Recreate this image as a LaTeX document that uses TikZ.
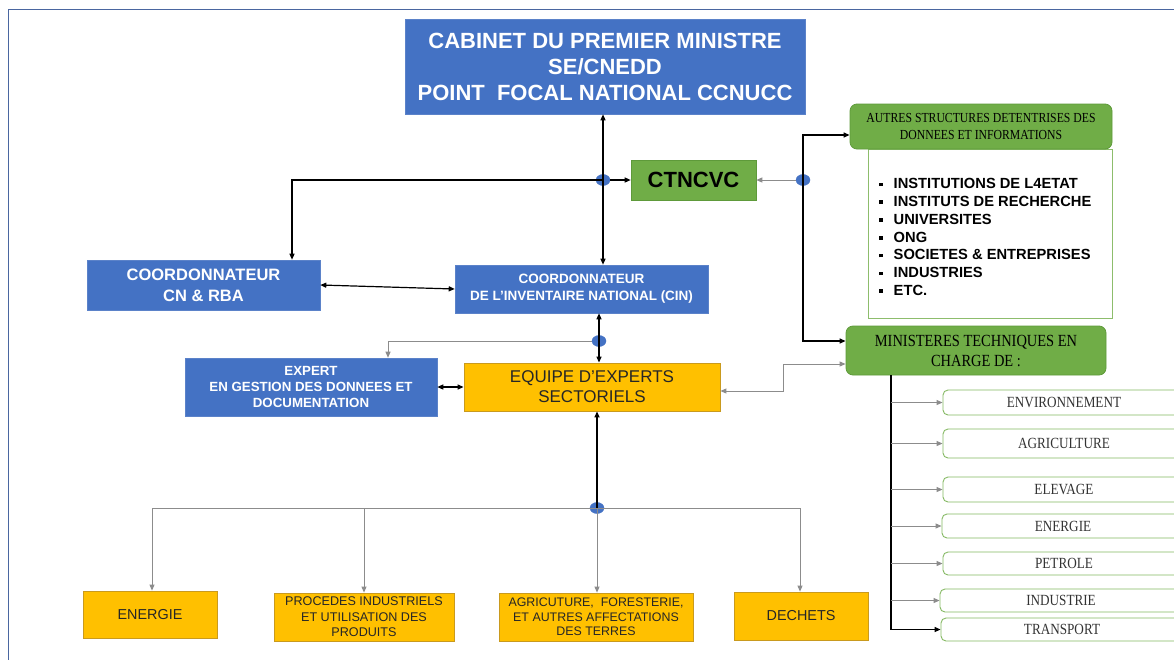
\documentclass[tikz,border=0pt]{standalone}
\usepackage{fontspec}
\setmainfont{Liberation Sans}
\newfontfamily\cserif[FakeStretch=0.85]{Liberation Serif}
\usetikzlibrary{arrows.meta,shapes.geometric}
\definecolor{cblue}{HTML}{4472C4}
\definecolor{cblueb}{HTML}{5B82C9}
\definecolor{cgreen}{HTML}{70AD47}
\definecolor{cgreenb}{HTML}{5E9A3A}
\definecolor{cyellow}{HTML}{FFC000}
\definecolor{cyellowb}{HTML}{C99A1E}
\definecolor{cframe}{HTML}{4A66A0}
\definecolor{cgray}{HTML}{8C8C8C}
\definecolor{ctext}{HTML}{333333}
\tikzset{
  tip/.tip={Triangle[length=6pt,width=5pt]},
  bluebox/.style={draw=cblueb, fill=cblue, text=white, inner sep=0, align=center, line width=0.6pt},
  greenbox/.style={draw=cgreenb, fill=cgreen, inner sep=0, align=center, line width=0.6pt},
  greenround/.style={draw=cgreenb, fill=cgreen, inner sep=0, align=center, rounded corners=7pt, line width=0.8pt, text=black},
  yellowbox/.style={draw=cyellowb, fill=cyellow, text=black!85, inner sep=0, align=center, line width=0.8pt},
  listbox/.style={draw=cgreen!80, fill=white, inner sep=0, line width=0.8pt},
  ministry/.style={draw=cgreen!85, fill=white, rounded corners=5pt, inner sep=0, line width=0.9pt, minimum width=242pt, text=ctext, font=\cserif\fontsize{15.5}{17}\selectfont},
  hubdot/.style={ellipse, fill=cblue, draw=cblue, minimum width=14pt, minimum height=11pt, inner sep=0},
  blk/.style={draw=black, line width=1.2pt},
  gry/.style={draw=cgray, line width=0.9pt},
}
\begin{document}
\begin{tikzpicture}[x=1pt,y=-1pt]
\useasboundingbox[fill=white] (0,0) rectangle (1174,659);
% frame
\draw[cframe, line width=1pt] (8,665) -- (8,9) -- (1180,9);

% top nodes
\node[bluebox, minimum width=400pt, minimum height=95pt, font=\bfseries\fontsize{22}{26}\selectfont] (cab) at (605,66.5)
  {CABINET DU PREMIER MINISTRE\\SE/CNEDD\\POINT\ \ FOCAL NATIONAL CCNUCC};
\node[greenbox, minimum width=125pt, minimum height=40pt, font=\bfseries\fontsize{22}{24}\selectfont] (ctn) at (693.5,180) {CTNCVC};

\node[listbox, minimum width=244pt, minimum height=169pt] (lst) at (990,233.5) {};
\node[anchor=west, inner sep=0, font=\bfseries\fontsize{14.7}{17.8}\selectfont, align=left] (items) at (879,238.5)
  {\begin{tabular}{@{}l@{\hspace{11pt}}l@{}}
   \raisebox{2.5pt}{\rule{3.5pt}{3.5pt}} & INSTITUTIONS DE L4ETAT\\
   \raisebox{2.5pt}{\rule{3.5pt}{3.5pt}} & INSTITUTS DE RECHERCHE\\
   \raisebox{2.5pt}{\rule{3.5pt}{3.5pt}} & UNIVERSITES\\
   \raisebox{2.5pt}{\rule{3.5pt}{3.5pt}} & ONG\\
   \raisebox{2.5pt}{\rule{3.5pt}{3.5pt}} & SOCIETES \& ENTREPRISES\\
   \raisebox{2.5pt}{\rule{3.5pt}{3.5pt}} & INDUSTRIES\\
   \raisebox{2.5pt}{\rule{3.5pt}{3.5pt}} & ETC.
   \end{tabular}};
\node[greenround, minimum width=262pt, minimum height=45pt, font=\cserif\fontsize{13.8}{17}\selectfont] (autres) at (981,126.5)
  {AUTRES STRUCTURES DETENTRISES DES\\DONNEES ET INFORMATIONS};
\node[greenround, minimum width=260pt, minimum height=49pt, font=\cserif\fontsize{17}{20}\selectfont] (minist) at (976,350.5)
  {MINISTERES TECHNIQUES EN\\CHARGE DE :};

% middle nodes
\node[bluebox, minimum width=233pt, minimum height=50pt, font=\bfseries\fontsize{16.5}{21}\selectfont] (cn) at (203.5,285)
  {COORDONNATEUR\\CN \& RBA};
\node[bluebox, minimum width=253pt, minimum height=48pt, font=\bfseries\fontsize{13.5}{17}\selectfont] (cin) at (581.5,289)
  {COORDONNATEUR\\DE L’INVENTAIRE NATIONAL (CIN)};
\node[bluebox, minimum width=252pt, minimum height=58pt, font=\bfseries\fontsize{13.3}{16}\selectfont] (expert) at (311,387)
  {EXPERT\\EN GESTION DES DONNEES ET\\DOCUMENTATION};
\node[yellowbox, minimum width=256pt, minimum height=48pt, font=\fontsize{17}{20}\selectfont] (equipe) at (592,387)
  {EQUIPE D’EXPERTS\\SECTORIELS};

% bottom nodes
\node[yellowbox, minimum width=134pt, minimum height=47pt, font=\fontsize{14.4}{17}\selectfont] (ener) at (150,614.5) {ENERGIE};
\node[yellowbox, minimum width=180pt, minimum height=48pt, font=\fontsize{12.6}{15.5}\selectfont] (proc) at (364,617)
  {PROCEDES INDUSTRIELS\\ET UTILISATION DES\\PRODUITS};
\node[yellowbox, minimum width=194pt, minimum height=48pt, font=\fontsize{12.4}{14.5}\selectfont] (agri) at (596,617)
  {AGRICUTURE,\ \ FORESTERIE,\\ET AUTRES AFFECTATIONS\\DES TERRES};
\node[yellowbox, minimum width=134pt, minimum height=48pt, font=\fontsize{14.4}{17}\selectfont] (dech) at (801,616) {DECHETS};

% ministries
\node[ministry, minimum height=25pt] (env) at (1064,402.5) {ENVIRONNEMENT};
\node[ministry, minimum height=29pt] (agr) at (1064,443.5) {AGRICULTURE};
\node[ministry, minimum height=25pt] (ele) at (1064,489.5) {ELEVAGE};
\node[ministry, minimum height=24pt] (nrg) at (1063,526) {ENERGIE};
\node[ministry, minimum height=23pt] (pet) at (1064,563.5) {PETROLE};
\node[ministry, minimum height=23pt] (ind) at (1061,600.5) {INDUSTRIE};
\node[ministry, minimum height=23pt] (tra) at (1062,629.5) {TRANSPORT};

% hub dots
\node[hubdot] (d1) at (603,180) {};
\node[hubdot] (d2) at (803,180) {};
\node[hubdot] (d3) at (599,341) {};
\node[hubdot] (d4) at (597,508) {};

% connectors around d1
\draw[blk,-tip] (d1.center) -- (d1 |- cab.south);
\draw[blk,-tip] (d1.center) -- (d1 |- cin.north);
\draw[blk,-tip] (d1.center) -| ([xshift=88.5pt]cn.north);
\draw[blk,-tip] (d1.east) -- (ctn.west);
% connectors around d2
\draw[gry,-tip] (d2.west) -- (ctn.east);
\draw[blk,-tip] (d2.center) |- ([yshift=-8.5pt]autres.west);
\draw[blk,-tip] (d2.center) |- ([yshift=9.5pt]minist.west);
% CN <-> CIN
\draw[blk,tip-tip] (cn.east) -- (cin.west);
% around d3
\draw[blk,-tip] (d3.center) -- (d3 |- cin.south);
\draw[blk,-tip] (d3.center) -- (d3 |- equipe.north);
\draw[gry,-tip] (d3.west) -| ([xshift=77pt]expert.north);
% expert <-> equipe
\draw[blk,tip-tip] (expert.east) -- (equipe.west);
% equipe <-> ministeres
\draw[gry,tip-tip] ([yshift=-4pt]equipe.east) -- ++(63,0) |- ([yshift=-13.5pt]minist.west);
% d4
\draw[blk,line width=1.6pt,-tip] (d4.center) -- (d4 |- equipe.south);
\draw[gry,-tip] (d4.center) -- (d4 |- agri.north);
\draw[gry,-tip] (d4.center) -| ([xshift=2pt]ener.north);
\draw[gry,-tip] (d4.center) -| (proc.north);
\draw[gry,-tip] (d4.center) -| ([xshift=-1pt]dech.north);
% ministries tree
\coordinate (trunk) at ([xshift=-85pt]minist.south);
\draw[blk,line width=1.4pt,-tip] (trunk) |- (tra.west);
\foreach \m in {env,agr,ele,nrg,pet,ind}
  \draw[gry,-tip] (trunk |- \m.west) -- (\m.west);
\end{tikzpicture}
\end{document}
